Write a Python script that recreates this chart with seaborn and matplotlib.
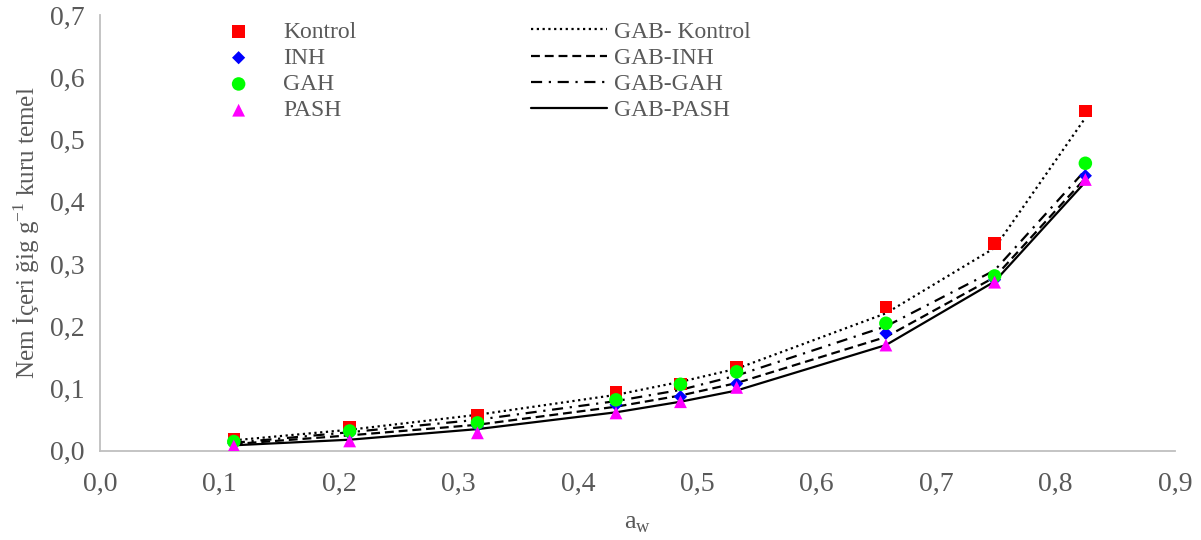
import matplotlib
matplotlib.use("Agg")
import matplotlib.pyplot as plt
import seaborn as sns
import pandas as pd
from matplotlib.ticker import FuncFormatter, MultipleLocator

# water activity points
aw = [0.112, 0.209, 0.316, 0.432, 0.486, 0.533, 0.658, 0.749, 0.825]

# measured moisture content
kontrol = [0.019, 0.038, 0.057, 0.094, 0.107, 0.134, 0.231, 0.333, 0.546]
inh = [0.012, 0.028, 0.040, 0.074, 0.087, 0.108, 0.189, 0.275, 0.442]
gah = [0.015, 0.032, 0.045, 0.082, 0.107, 0.127, 0.205, 0.281, 0.462]
pash = [0.008, 0.016, 0.029, 0.061, 0.079, 0.102, 0.170, 0.271, 0.436]

# GAB model predictions
gab_kontrol = [0.017, 0.034, 0.058, 0.090, 0.111, 0.132, 0.221, 0.326, 0.535]
gab_inh = [0.011, 0.025, 0.042, 0.071, 0.089, 0.109, 0.183, 0.279, 0.438]
gab_gah = [0.013, 0.030, 0.050, 0.080, 0.098, 0.121, 0.200, 0.290, 0.451]
gab_pash = [0.009, 0.018, 0.035, 0.062, 0.079, 0.097, 0.170, 0.272, 0.432]

points = [
    ("Kontrol", kontrol, "s", "#ff0000", 80),
    ("INH", inh, "D", "#0000ff", 45),
    ("GAH", gah, "o", "#00ff00", 95),
    ("PASH", pash, "^", "#ff00ff", 85),
]
lines = [
    ("GAB- Kontrol", gab_kontrol, (0, (1, 1.6))),
    ("GAB-INH", gab_inh, (0, (4, 2.2))),
    ("GAB-GAH", gab_gah, (0, (5, 3, 1, 3))),
    ("GAB-PASH", gab_pash, "-"),
]

sns.set_style("white")
plt.rcParams["font.family"] = ["Liberation Serif", "DejaVu Serif"]
plt.rcParams["mathtext.fontset"] = "custom"
plt.rcParams["mathtext.rm"] = "Liberation Serif"

grey = "#595959"
fig = plt.figure(figsize=(12.01, 5.4), dpi=100)
ax = fig.add_axes([0.0833, 0.165, 0.895, 0.807])

for name, vals, ls in lines:
    df = pd.DataFrame({"aw": aw, "m": vals})
    sns.lineplot(data=df, x="aw", y="m", ax=ax, color="black", lw=1.6,
                 linestyle=ls, label=name, zorder=2)
for name, vals, mk, col, s in points:
    df = pd.DataFrame({"aw": aw, "m": vals})
    sns.scatterplot(data=df, x="aw", y="m", ax=ax, marker=mk, color=col,
                    s=s, edgecolor="none", label=name, zorder=3)

ax.set_xlim(0, 0.9)
ax.set_ylim(0, 0.7)
ax.xaxis.set_major_locator(MultipleLocator(0.1))
ax.yaxis.set_major_locator(MultipleLocator(0.1))
ax.yaxis.set_minor_locator(MultipleLocator(0.05))
fmt = FuncFormatter(lambda v, p: f"{v:.1f}".replace(".", ","))
ax.xaxis.set_major_formatter(fmt)
ax.yaxis.set_major_formatter(fmt)

for side in ["top", "right"]:
    ax.spines[side].set_visible(False)
for side in ["left", "bottom"]:
    ax.spines[side].set_color("#bfbfbf")
    ax.spines[side].set_linewidth(1.3)

ax.tick_params(axis="y", which="both", direction="out", length=6,
               color="#bfbfbf", width=1.3, labelsize=20, labelcolor=grey, pad=5)
ax.tick_params(axis="x", which="both", length=0, labelsize=20,
               labelcolor=grey, pad=15)

ax.set_xlabel(r"a$_\mathregular{w}$", fontsize=19, color=grey, labelpad=12)
ax.set_ylabel(r"Nem İçeri ğig g$^\mathregular{-1}$ kuru temel", fontsize=18,
              color=grey, labelpad=6)

h, l = ax.get_legend_handles_labels()
order = [4, 5, 6, 7, 0, 1, 2, 3]
leg = ax.legend([h[i] for i in order], [l[i] for i in order], ncol=2,
                frameon=False, fontsize=17, handlelength=3.2, handletextpad=0.3,
                columnspacing=7.4, labelspacing=0.2, loc="upper left",
                bbox_to_anchor=(0.074, 1.035))
for t in leg.get_texts():
    t.set_color(grey)

fig.savefig("out.png", dpi=100)
